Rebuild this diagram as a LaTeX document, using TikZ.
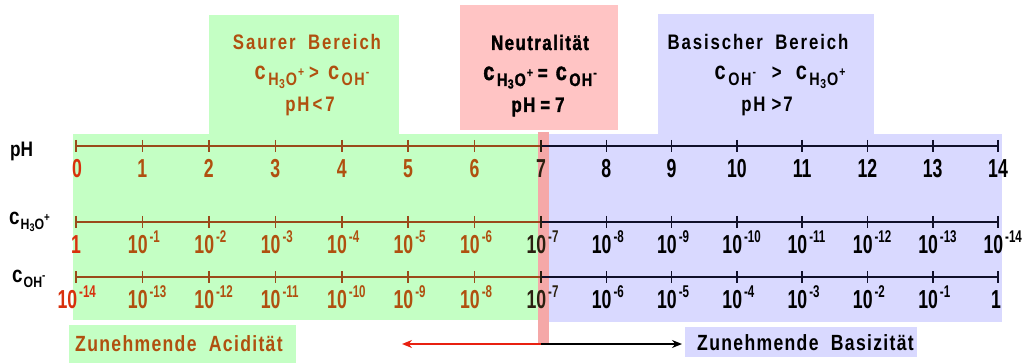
\documentclass[tikz,border=0pt]{standalone}
\usepackage{fontspec}
\setmainfont{Liberation Sans}[FakeStretch=0.82]
\newfontfamily\txtfont{Liberation Sans}[FakeStretch=0.8, LetterSpace=9]
\newfontfamily\botfont{Liberation Sans}[FakeStretch=0.8, LetterSpace=6]
\newfontfamily\heavyfont{Liberation Sans}[FakeStretch=0.8, LetterSpace=7, FakeBold=1.5]
\newfontfamily\numfont{Liberation Sans}[FakeStretch=0.68]
\usetikzlibrary{arrows.meta}
\definecolor{gbg}{HTML}{C4FFC4}
\definecolor{pbg}{HTML}{FFC4C4}
\definecolor{pstrip}{HTML}{F5A8A8}
\definecolor{bbg}{HTML}{D9D9FF}
\definecolor{brn}{HTML}{B0500F}
\definecolor{brnline}{HTML}{9A4A1A}
\definecolor{redtxt}{HTML}{D8300C}
\definecolor{navy}{HTML}{10102A}
\definecolor{dark}{HTML}{2A2010}
\definecolor{arrred}{HTML}{E82010}
% heading-size concentrations
\newcommand{\cHOh}{{\fontsize{25}{25}\selectfont c}\kern2.5pt\raisebox{-6pt}{\fontsize{18}{18}\selectfont H\kern0.5pt\raisebox{-2.5pt}{\fontsize{13}{13}\selectfont 3}\kern1pt O\kern1pt\raisebox{9pt}{\fontsize{13}{13}\selectfont +}}}
\newcommand{\cOHh}{{\fontsize{25}{25}\selectfont c}\kern2.5pt\raisebox{-6pt}{\fontsize{18}{18}\selectfont OH\kern1pt\raisebox{9pt}{\fontsize{13}{13}\selectfont -}}}
% side-label concentrations
\newcommand{\cHOs}{{\fontsize{23}{23}\selectfont c}\kern1pt\raisebox{-5pt}{\fontsize{15}{15}\selectfont H\raisebox{-2pt}{\fontsize{11}{11}\selectfont 3}O\raisebox{8pt}{\fontsize{12}{12}\selectfont +}}}
\newcommand{\cOHs}{{\fontsize{23}{23}\selectfont c}\kern1pt\raisebox{-5pt}{\fontsize{15}{15}\selectfont OH\raisebox{8pt}{\fontsize{12}{12}\selectfont -}}}
\newcommand{\tenexp}[1]{\llap{10}\kern2pt\raisebox{11pt}{\fontsize{17}{17}\selectfont #1}}
\tikzset{
  num/.style={inner sep=0pt, anchor=base, font=\numfont\bfseries\fontsize{26}{26}\selectfont},
  expn/.style={inner sep=0pt, anchor=base west, font=\numfont\bfseries\fontsize{26}{26}\selectfont},
  head/.style={inner sep=0pt, anchor=base, font=\txtfont\bfseries\fontsize{21}{21}\selectfont},
  headbold/.style={inner sep=0pt, anchor=base, font=\heavyfont\bfseries\fontsize{21}{21}\selectfont},
  sidelbl/.style={inner sep=0pt, anchor=base west, font=\bfseries\fontsize{21}{21}\selectfont},
  bottomlbl/.style={inner sep=0pt, anchor=base west, font=\botfont\bfseries\fontsize{22}{22}\selectfont},
  axisline/.style={line width=2.2pt},
  tickmark/.style={line width=1.6pt},
}
\begin{document}
\begin{tikzpicture}[x=1pt,y=-1pt]
\useasboundingbox (0,0) rectangle (1032,363);
% backgrounds
\fill[gbg] (73,134) rectangle (541,320);
\fill[gbg] (209,15) rectangle (399,135);
\fill[pbg] (460,5) rectangle (618,130);
\fill[bbg] (548,134) rectangle (1002,322);
\fill[bbg] (658,14) rectangle (874,135);
\fill[pstrip] (538,132) rectangle (549,343);
\fill[gbg] (69,325) rectangle (296,363);
\fill[bbg] (685,327) rectangle (917,357);

% headings
\node[head, text=brn] (sb) at (307,50) {Saurer\; Bereich};
\node[head, text=brn] (sbc) at (312,80) {\cHOh\kern5pt>\kern9pt\cOHh};
\node[head, text=brn] (sbp) at (310,112) {pH\kern3pt<\kern3pt7};
\node[headbold, text=black] (nt) at (540,50) {Neutralität};
\node[headbold, text=black] (ntc) at (540,80) {\cHOh\kern5pt=\kern8pt\cOHh};
\node[headbold, text=black] (ntp) at (538,112) {pH\kern5pt=\kern5pt7};
\node[head, text=black] (bb) at (758,50) {Basischer\; Bereich};
\node[head, text=black] (bbc) at (780,80) {\cOHh\kern16pt>\kern14pt\cHOh};
\node[head, text=black] (bbp) at (767,112) {pH\kern6pt>\kern2pt7};

% side labels
\node[sidelbl] (lph) at (10,157) {pH};
\node[sidelbl] (lh) at (9,225) {\cHOs};
\node[sidelbl] (loh) at (12,282) {\cOHs};

% axes
\foreach \y/\n in {146/a,222/b,277/c}{
  \coordinate (\n0) at (76,\y);
  \coordinate (\n7) at (541,\y);
  \coordinate (\n14) at (998,\y);
}
\draw[axisline, brnline] (a0) -- (a7);
\draw[axisline, navy] (a7) -- (a14);
\draw[axisline, brnline] (b0) -- (b7);
\draw[axisline, navy] (b7) -- (b14);
\draw[axisline, brnline] (c0) -- (c7);
\draw[axisline, navy] (c7) -- (c14);

\foreach \x in {76,142.4,208.9,275.3,341.7,408.1,474.6}{
  \foreach \y in {146,222,277}{
    \draw[tickmark, brnline] (\x,\y-6) -- (\x,\y+6);
  }
}
\foreach \x in {606.3,671.6,736.9,802.1,867.4,932.7,998}{
  \foreach \y in {146,222,277}{
    \draw[tickmark, navy] (\x,\y-6) -- (\x,\y+6);
  }
}
\foreach \y in {146,222,277}{
  \draw[tickmark, dark] (541,\y-6) -- (541,\y+6);
}

% pH numbers
\node[num, text=redtxt] (p0) at (77,178) {0};
\foreach \i/\x in {1/142.4,2/208.9,3/275.3,4/341.7,5/408.1,6/474.6}{
  \node[num, text=brn] (p\i) at (\x,178) {\i};
}
\node[num, text=dark] (p7) at (541,178) {7};
\foreach \i/\x in {8/606.3,9/671.6,10/736.9,11/802.1,12/867.4,13/932.7,14/998}{
  \node[num, text=black] (p\i) at (\x,178) {\i};
}

% c H3O+ numbers
\node[num, text=redtxt] (h0) at (76,253) {1};
\foreach \i/\x in {1/142.4,2/208.9,3/275.3,4/341.7,5/408.1,6/474.6}{
  \node[expn, text=brn] (h\i) at (\x+5,253) {\tenexp{-\i}};
}
\node[expn, text=dark] (h7) at (546,253) {\tenexp{-7}};
\foreach \i/\x in {8/606.3,9/671.6,10/736.9,11/802.1,12/867.4,13/932.7,14/998}{
  \node[expn, text=black] (h\i) at (\x+5,253) {\tenexp{-\i}};
}

% c OH- numbers
\node[expn, text=redtxt] (o0) at (77,308) {\tenexp{-14}};
\foreach \i/\x/\e in {1/142.4/13,2/208.9/12,3/275.3/11,4/341.7/10,5/408.1/9,6/474.6/8}{
  \node[expn, text=brn] (o\i) at (\x+5,308) {\tenexp{-\e}};
}
\node[expn, text=dark] (o7) at (546,308) {\tenexp{-7}};
\foreach \i/\x/\e in {8/606.3/6,9/671.6/5,10/736.9/4,11/802.1/3,12/867.4/2,13/932.7/1}{
  \node[expn, text=black] (o\i) at (\x+5,308) {\tenexp{-\e}};
}
\node[num, text=black] (o14) at (996,308) {1};

% bottom
\node[bottomlbl, text=brn] (za) at (75,351) {Zunehmende\; Acidität};
\node[bottomlbl, text=black] (zb) at (697,350) {Zunehmende\; Basizität};
\coordinate (mid) at (541,344);
\coordinate (lend) at (402,344);
\coordinate (rend) at (682,344);
\draw[line width=2pt, arrred, -{Stealth[length=10pt,width=8pt]}] (mid) -- (lend);
\draw[line width=2pt, black, -{Stealth[length=10pt,width=8pt]}] (mid) -- (rend);
\end{tikzpicture}
\end{document}
